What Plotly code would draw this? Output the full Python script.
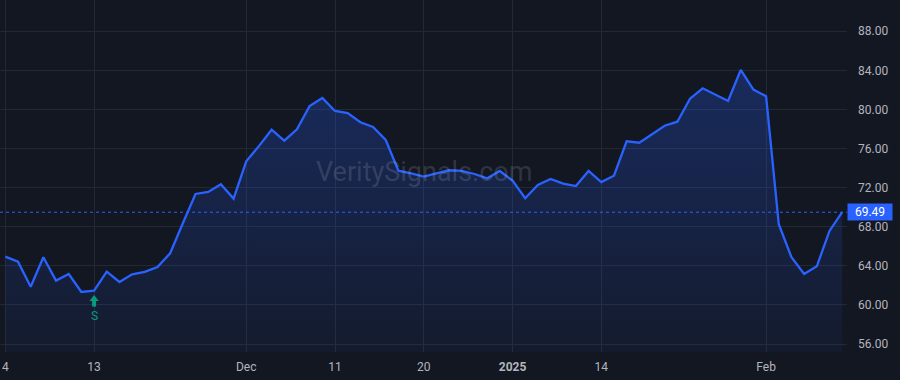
import plotly.graph_objects as go

dates = [
    "2024-11-04", "2024-11-05", "2024-11-06", "2024-11-07", "2024-11-08",
    "2024-11-11", "2024-11-12", "2024-11-13", "2024-11-14", "2024-11-15",
    "2024-11-18", "2024-11-19", "2024-11-20", "2024-11-21", "2024-11-22",
    "2024-11-25", "2024-11-26", "2024-11-27", "2024-11-29",
    "2024-12-02", "2024-12-03", "2024-12-04", "2024-12-05", "2024-12-06",
    "2024-12-09", "2024-12-10", "2024-12-11", "2024-12-12", "2024-12-13",
    "2024-12-16", "2024-12-17", "2024-12-18", "2024-12-19", "2024-12-20",
    "2024-12-23", "2024-12-24", "2024-12-26", "2024-12-27", "2024-12-30",
    "2024-12-31",
    "2025-01-02", "2025-01-03", "2025-01-06", "2025-01-07", "2025-01-08",
    "2025-01-10", "2025-01-13", "2025-01-14", "2025-01-15", "2025-01-16",
    "2025-01-17", "2025-01-21", "2025-01-22", "2025-01-23", "2025-01-24",
    "2025-01-27", "2025-01-28", "2025-01-29", "2025-01-30", "2025-01-31",
    "2025-02-03", "2025-02-04", "2025-02-05", "2025-02-06", "2025-02-07",
    "2025-02-10", "2025-02-11",
]

prices = [
    64.94, 64.43, 61.87, 64.88, 62.49, 63.17, 61.33, 61.46, 63.41, 62.35,
    63.14, 63.38, 63.89, 65.29, 68.36, 71.36, 71.56, 72.35, 70.88,
    74.70, 76.25, 77.93, 76.81, 77.97, 80.36, 81.18, 79.85, 79.64, 78.69,
    78.21, 76.88, 73.74, 73.47, 73.13, 73.47, 73.78, 73.71, 73.40, 72.96,
    73.71,
    72.72, 70.92, 72.28, 72.89, 72.41, 72.17, 73.71, 72.58, 73.23, 76.75,
    76.60, 77.46, 78.34, 78.75, 81.10, 82.17, 81.55, 80.87, 84.04, 82.03,
    81.35, 68.26, 64.88, 63.17, 63.96, 67.57, 69.49,
]

tick_dates = ["2024-11-04", "2024-11-13", "2024-12-02", "2024-12-11",
              "2024-12-20", "2025-01-02", "2025-01-14", "2025-02-03"]
tick_labels = ["4", "13", "Dec", "11", "20", "<b>2025</b>", "14", "Feb"]

y_ticks = [56, 60, 64, 68, 72, 76, 80, 84, 88]
y_tick_labels = [f"{v:.2f}" for v in y_ticks]

signal_date = "2024-11-13"
signal_label = "S"
last_price = prices[-1]

BG = "#131722"
GRID = "#242833"
BLUE = "#2962ff"
GREEN = "#089981"
TXT = "#b2b5be"

idx = list(range(len(dates)))
tick_idx = [dates.index(d) for d in tick_dates]
sig_i = dates.index(signal_date)

fig = go.Figure()
fig.add_trace(go.Scatter(
    x=idx, y=prices, mode="lines",
    line=dict(color=BLUE, width=2.3),
    fill="tozeroy",
    fillgradient=dict(type="vertical", start=55, stop=84,
                      colorscale=[[0, "rgba(41,98,255,0.05)"],
                                  [1, "rgba(41,98,255,0.27)"]]),
    hoverinfo="skip", showlegend=False,
))

fig.add_shape(type="line", xref="paper", x0=0, x1=1, yref="y",
              y0=last_price, y1=last_price,
              line=dict(color=BLUE, width=1, dash="dot"))

fig.add_annotation(xref="paper", x=1, y=last_price, text=f"{last_price:.2f}",
                   showarrow=False, xanchor="left", yanchor="middle",
                   bgcolor=BLUE, width=44, height=16, borderpad=0,
                   font=dict(color="white", size=12, family="Roboto"))

# signal arrow: stem + head, placed just below the signal bar's price
fig.add_trace(go.Scatter(
    x=[sig_i], y=[prices[sig_i] - 1.2], mode="markers",
    marker=dict(symbol="line-ns", size=6, line=dict(color=GREEN, width=4)),
    hoverinfo="skip", showlegend=False,
))
fig.add_trace(go.Scatter(
    x=[sig_i], y=[prices[sig_i] - 0.84], mode="markers",
    marker=dict(symbol="triangle-up", size=8, color=GREEN, line=dict(width=0)),
    hoverinfo="skip", showlegend=False,
))
fig.add_annotation(x=sig_i, y=prices[sig_i], text=signal_label,
                   showarrow=False, yshift=-25,
                   font=dict(color=GREEN, size=12, family="Roboto"))

fig.add_annotation(xref="paper", yref="paper", x=0.5, y=0.51,
                   text="VeritySignals.com", showarrow=False,
                   font=dict(color="rgba(178,181,190,0.2)", size=27,
                             family="Roboto"))

fig.update_layout(
    width=900, height=380,
    margin=dict(l=0, r=53, t=0, b=28),
    paper_bgcolor=BG, plot_bgcolor=BG,
    font=dict(family="Roboto", color=TXT, size=12),
    xaxis=dict(range=[-0.42, 66.38], tickvals=tick_idx, ticktext=tick_labels,
               showgrid=True, gridcolor=GRID, gridwidth=1, zeroline=False,
               showline=False, ticks="", ticklabelstandoff=6,
               tickfont=dict(color=TXT, size=12)),
    yaxis=dict(range=[55.19, 91.2], side="right", tickvals=y_ticks,
               ticktext=y_tick_labels, showgrid=True, gridcolor=GRID,
               zeroline=False, showline=False, ticks="",
               ticklabelstandoff=10, tickfont=dict(color=TXT, size=12)),
)

fig.write_html("out.html")
